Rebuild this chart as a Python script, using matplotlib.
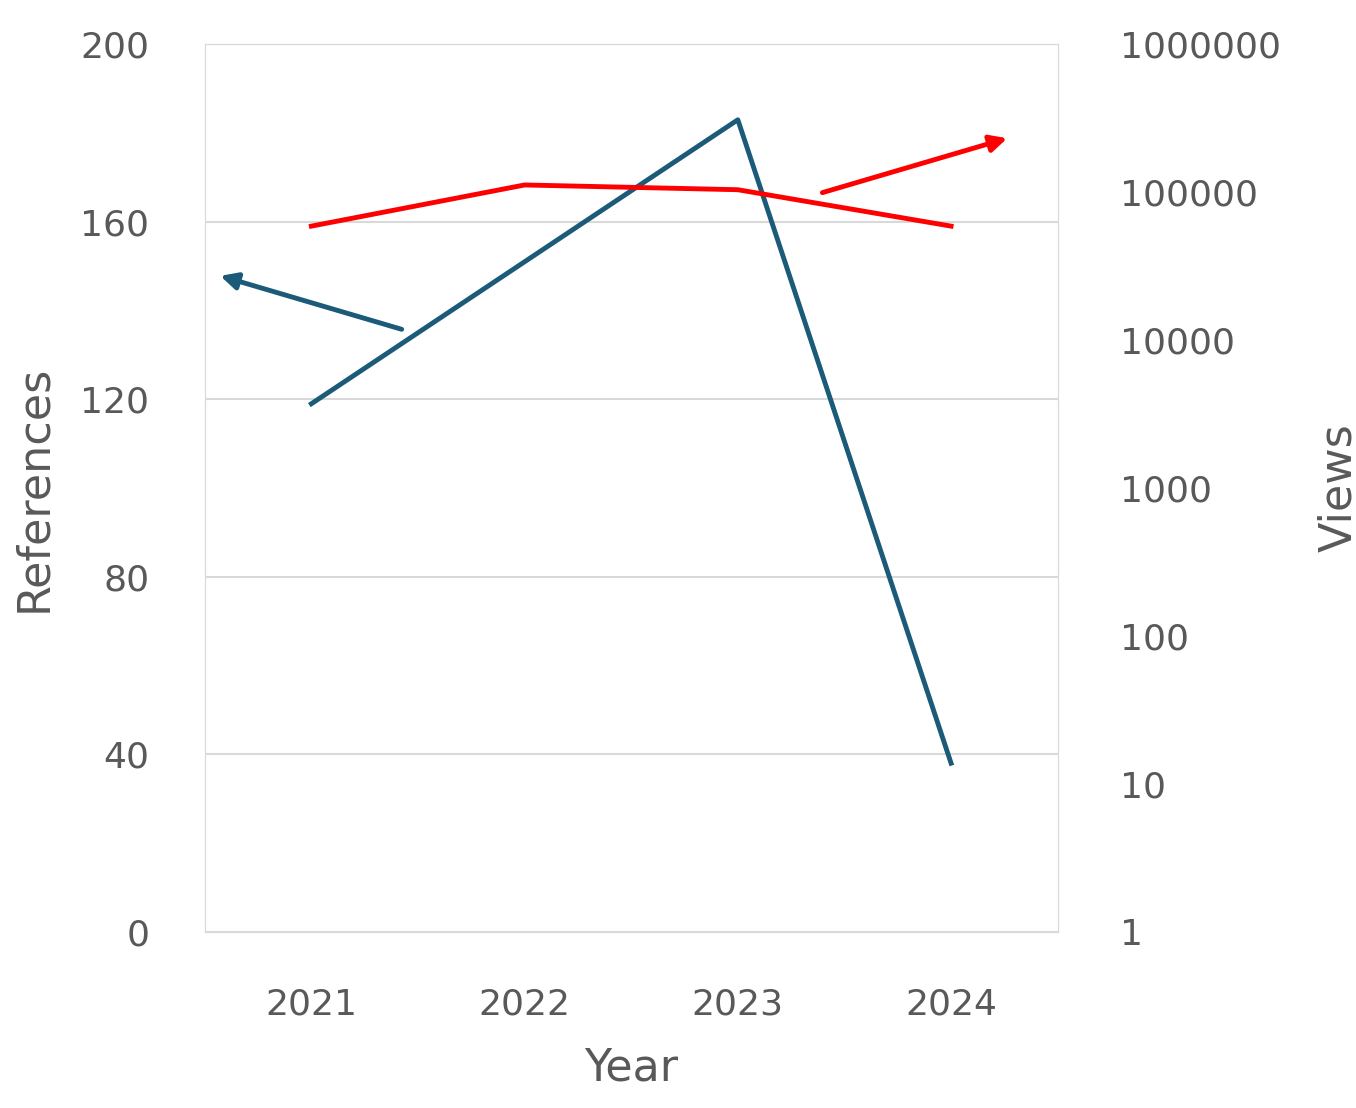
import matplotlib.pyplot as plt

years = ["2021", "2022", "2023", "2024"]
references = [119, 151, 183, 38]
views = [59000, 112000, 104000, 59000]

gray = "#595959"
plt.rcParams['font.family'] = ['DejaVu Sans']

fig = plt.figure(figsize=(13.56, 11.08), dpi=100)
ax = fig.add_axes([0.151, 0.159, 0.629, 0.801])
ax2 = ax.twinx()

x = range(len(years))
ax.plot(x, references, color="#1b5a78", lw=3.5)
ax2.plot(x, views, color="#ff0000", lw=3.5)

ax.set_ylim(0, 200)
ax.set_yticks([0, 40, 80, 120, 160, 200])
ax.set_xlim(-0.5, 3.5)
ax.set_xticks(list(x))
ax.set_xticklabels(years)
ax.grid(axis="y", color="#d9d9d9", lw=1.5)
ax.set_axisbelow(True)

ax2.set_yscale("log")
ax2.set_ylim(1, 1e6)
ticks = [1, 10, 100, 1000, 10000, 100000, 1000000]
ax2.set_yticks(ticks)
ax2.set_yticklabels([str(t) for t in ticks])
ax2.minorticks_off()

for a in (ax, ax2):
    for s in a.spines.values():
        s.set_color("#d9d9d9")
    a.tick_params(length=0, labelsize=26, colors=gray)
ax.tick_params(axis="y", pad=40)
ax.tick_params(axis="x", pad=40)
ax2.tick_params(axis="y", pad=45)

ax.set_xlabel("Year", fontsize=32, color=gray, labelpad=18)
ax.set_ylabel("References", fontsize=32, color=gray, labelpad=18)
ax2.set_ylabel("Views", fontsize=32, color=gray, labelpad=26)

ax.annotate("", xy=(0.015, 0.740), xytext=(0.234, 0.678), xycoords="axes fraction",
            arrowprops=dict(arrowstyle="-|>", color="#1b5a78", lw=3.5, mutation_scale=25))
ax.annotate("", xy=(0.944, 0.895), xytext=(0.721, 0.832), xycoords="axes fraction",
            arrowprops=dict(arrowstyle="-|>", color="#ff0000", lw=3.5, mutation_scale=25))

fig.savefig("out.png")
